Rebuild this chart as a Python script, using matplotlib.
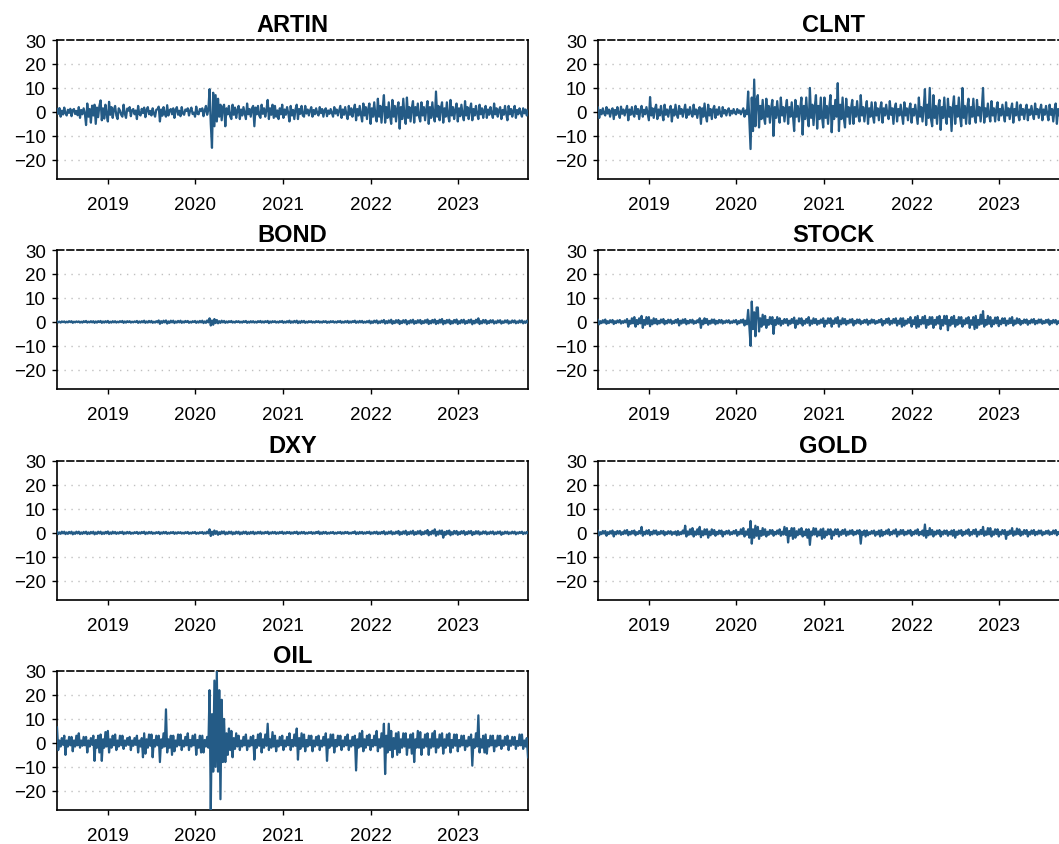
import numpy as np
import pandas as pd
import matplotlib
matplotlib.use('Agg')
import matplotlib.pyplot as plt
import matplotlib.dates as mdates

plt.rcParams['font.family'] = ['Liberation Sans', 'DejaVu Sans']

# return series: 6 readings per month, Jun 2018 - Oct 2023
names = ['ARTIN', 'CLNT', 'BOND', 'STOCK', 'DXY', 'GOLD', 'OIL']

artin = [
    # 2018 Jun-Dec
    1.2, -0.8, 1.6, -2.0, 0.5, -1.1, 1.8, -0.6, -1.5, 0.9, -0.4, 1.3, -1.8, 0.7, 1.2, -0.9, 0.4, -1.4,
    2.0, -2.5, 0.8, -1.0, 1.5, -0.6, -5.5, 3.5, -2.0, 1.2, -4.5, 2.6, -1.5, 3.0, -5.0, 1.8, -2.2, 2.5,
    4.8, -3.5, 1.5, -2.8, 3.0, -1.0,
    # 2019
    -4.0, 4.2, -1.2, 2.0, -2.5, 1.0, 2.5, -1.5, -3.0, 1.5, 0.6, -1.2, -2.0, 3.0, -0.8, -2.5, 1.4, 0.5,
    2.0, -1.8, 0.7, 1.2, -1.0, 0.6, -3.0, 2.5, -0.9, -1.5, 1.3, -0.5, 1.8, -2.2, 0.8, 2.0, -1.0, 0.4,
    -1.5, 1.5, -0.6, -2.0, 0.9, 1.1, 2.2, -4.0, 1.0, -1.6, 2.0, -0.8, -2.0, 2.8, -1.5, 0.6, 1.2, -1.0,
    1.5, -2.5, 0.8, 2.0, -1.2, 0.5, -1.8, 2.0, -0.7, -1.2, 1.0, 0.4, 1.5, -1.5, 0.6, 1.8, -0.9, -0.3,
    # 2020
    -2.0, 2.2, -0.8, -1.0, 1.2, 0.5, 1.5, -1.8, 0.6, 2.5, -1.2, 0.8, 9.5, -5.0, -15.0, 8.0, -6.0, 7.0,
    -4.0, 5.5, -2.0, 3.0, -3.5, 2.0, 3.0, -6.0, 1.5, -1.0, 2.5, -1.8, -3.0, 3.0, -1.2, 1.8, -2.5, 0.8,
    2.5, -3.0, 1.0, -1.5, 2.0, -0.6, -3.0, 3.5, -1.0, 1.2, -2.0, 1.5, 2.5, -6.0, 1.8, -1.0, 2.5, -1.5,
    -2.5, 3.0, -0.8, 1.5, -2.0, 0.9, 5.0, -3.0, 1.5, -1.2, 3.0, -2.5, 2.5, -2.0, 0.6, -3.0, 1.5, -1.0,
    # 2021
    3.0, -2.5, 1.0, -1.2, 2.0, -0.5, -4.0, 2.5, -1.5, 0.8, -3.0, 1.2, 3.0, -3.0, 1.2, -0.8, 2.5, -1.5,
    -2.0, 2.5, -0.7, 1.0, -1.5, 0.6, 2.0, -2.0, 0.8, -1.0, 1.5, -0.6, -1.5, 2.0, -0.5, 1.2, -2.0, 0.7,
    1.5, -1.8, 0.6, -0.8, 1.2, -0.4, -2.0, 2.0, -0.7, 1.0, -1.5, 0.5, 2.5, -2.5, 1.0, -1.2, 2.0, -0.9,
    -3.0, 2.5, -1.2, 1.5, -2.0, 0.8, 3.0, -3.5, 1.2, -1.5, 2.5, -1.0, -4.0, 3.5, -1.5, 2.0, -3.0, 1.2,
    # 2022
    3.5, -5.0, 1.5, -2.0, 4.0, -1.5, -4.0, 5.5, -2.0, 2.5, -4.5, 1.8, 7.0, -4.5, 2.0, -2.5, 4.0, -1.5,
    -5.0, 5.0, -2.0, 2.5, -4.0, 1.5, 4.0, -7.0, 2.0, -3.0, 5.5, -2.0, -5.0, 6.0, -2.5, 2.0, -4.0, 1.5,
    4.5, -4.5, 2.0, -1.5, 3.5, -2.0, -4.0, 4.0, -1.5, 2.0, -3.5, 1.2, 4.5, -5.0, 2.0, -2.5, 4.0, -1.5,
    -4.0, 8.5, -2.0, 2.5, -3.5, 1.5, 4.0, -4.5, 1.5, -2.0, 4.0, -1.5, -4.0, 5.0, -1.5, 2.0, -3.0, 1.0,
    # 2023 Jan-Oct
    3.5, -4.0, 1.5, -1.8, 3.0, -1.0, -3.5, 4.5, -1.5, 2.0, -3.0, 1.0, 3.5, -3.5, 1.2, -1.5, 2.5, -0.8,
    -3.0, 3.0, -1.0, 1.5, -2.5, 0.8, 2.5, -2.5, 1.0, -1.2, 2.0, -0.6, -2.5, 3.5, -1.0, 1.5, -2.0, 0.7,
    2.0, -3.0, 0.8, -1.2, 2.5, -0.8, -3.5, 2.5, -1.0, 1.2, -2.0, 0.6, 2.5, -2.5, 0.8, -1.0, 1.5, -0.5,
    -2.0, 1.5, -0.6, 1.0, -1.5, 0.5,
]

clnt = [
    # 2018 Jun-Dec
    1.8, -2.5, 0.8, -1.0, 1.5, -0.6, -1.5, 2.0, -0.7, 1.0, -2.0, 0.5, 1.5, -3.0, 0.8, -1.2, 2.0, -0.6,
    -2.5, 2.2, -0.8, 1.0, -1.5, 0.6, 2.5, -3.5, 1.0, -1.2, 2.0, -0.8, -2.0, 2.5, -0.8, 1.2, -3.0, 0.7,
    2.5, -2.0, 0.9, -1.0, 2.0, -0.8,
    # 2019
    -3.5, 6.2, -1.5, 1.5, -2.5, 1.2, 3.0, -3.0, 1.0, -1.5, 2.5, -0.8, -3.5, 3.0, -1.2, 1.0, -2.0, 0.8,
    2.5, -4.0, 1.0, -1.5, 3.0, -1.0, -2.5, 2.5, -0.8, 1.2, -2.0, 0.6, 3.0, -2.5, 1.0, -1.2, 2.0, -0.7,
    -2.0, 3.0, -1.0, 1.0, -2.5, 0.8, 2.0, -5.0, 1.5, -2.0, 3.5, -1.5, -4.0, 3.0, -1.5, 1.2, -3.0, 1.0,
    2.5, -2.5, 1.0, -1.2, 2.0, -0.8, -2.0, 2.0, -0.7, 0.8, -1.5, 0.6, 1.5, -1.5, 0.5, -0.7, 1.2, -0.4,
    # 2020
    -1.0, 1.2, -0.4, 0.6, -1.0, 0.3, 1.5, -2.0, 0.6, -1.0, 8.5, -3.0, -15.5, 6.0, -8.0, 13.5, -6.0, 5.0,
    7.0, -6.5, 2.5, -3.0, 5.0, -2.0, -5.0, 5.5, -2.0, 2.5, -4.5, 1.5, 5.0, -10.0, 2.0, -2.5, 4.5, -1.5,
    -4.5, 6.0, -1.5, 2.0, -4.0, 1.5, 5.0, -5.0, 2.0, -2.0, 4.0, -1.5, -8.0, 5.0, -2.0, 2.5, -4.0, 1.5,
    6.0, -9.5, 2.5, -3.0, 6.0, -2.0, -6.0, 10.0, -2.5, 3.0, -5.5, 2.0, 7.0, -7.0, 2.5, -3.0, 6.0, -2.0,
    # 2021
    -6.5, 6.0, -2.5, 2.5, -5.0, 2.0, 7.0, -8.5, 2.5, -3.0, 5.0, -2.0, 12.0, -8.0, 3.0, -3.0, 6.0, -2.5,
    -6.5, 5.5, -2.0, 2.0, -5.0, 1.5, 5.0, -5.0, 2.0, -2.0, 4.5, -1.5, -4.0, 7.0, -1.5, 2.0, -4.0, 1.2,
    4.5, -5.0, 1.5, -2.0, 4.0, -1.5, -4.5, 4.0, -1.5, 1.5, -3.5, 1.2, 4.0, -4.5, 1.5, -1.5, 3.0, -1.0,
    -3.0, 4.5, -1.2, 1.5, -5.0, 1.5, 3.5, -4.0, 1.2, -1.5, 3.0, -1.0, -5.0, 4.0, -1.5, 1.5, -3.5, 1.2,
    # 2022
    3.5, -4.5, 1.2, -1.5, 3.0, -1.0, -5.0, 6.0, -2.0, 2.0, -4.0, 1.5, 9.5, -5.5, 3.0, -2.5, 10.0, -3.0,
    -6.0, 7.0, -2.5, 2.5, -5.0, 2.0, 5.0, -7.5, 2.0, -2.5, 6.0, -2.0, -5.0, 5.5, -2.0, 2.0, -8.0, 2.0,
    6.5, -5.0, 2.5, -2.0, 6.0, -2.0, -6.0, 10.0, -2.5, 2.5, -5.0, 2.0, 5.5, -5.0, 2.0, -2.0, 5.5, -2.0,
    -4.5, 5.0, -1.5, 2.0, -4.0, 1.5, 10.0, -4.5, 1.5, -2.0, 3.5, -1.2, -4.0, 4.5, -1.5, 1.5, -4.0, 1.2,
    # 2023 Jan-Oct
    4.0, -3.5, 1.2, -1.5, 3.0, -1.0, -4.0, 4.0, -1.5, 1.5, -3.0, 1.0, 3.5, -4.5, 1.2, -1.5, 4.0, -1.2,
    -3.5, 3.0, -1.2, 1.2, -3.0, 1.0, 3.0, -3.5, 1.0, -1.2, 2.5, -0.8, -3.0, 3.5, -1.0, 1.2, -2.5, 0.8,
    3.0, -3.5, 1.0, -1.2, 2.5, -0.8, -3.5, 3.0, -1.2, 1.2, -4.0, 1.0, 3.5, -5.0, 1.2, -1.5, 3.0, -1.0,
    -3.5, 3.0, -1.0, 1.2, -2.5, 0.8,
]

bond = [
    # 2018 Jun-Dec
    0.3, -0.2, 0.1, -0.3, 0.2, -0.1, 0.2, -0.3, 0.1, -0.2, 0.3, -0.1, 0.3, -0.4, 0.1, -0.2, 0.2, -0.1,
    0.2, -0.3, 0.1, -0.3, 0.3, -0.1, 0.4, -0.3, 0.1, -0.2, 0.3, -0.2, 0.3, -0.4, 0.2, -0.3, 0.3, -0.1,
    0.4, -0.4, 0.2, -0.3, 0.3, -0.2,
    # 2019
    0.4, -0.4, 0.1, -0.3, 0.3, -0.2, 0.3, -0.3, 0.1, -0.2, 0.3, -0.1, 0.4, -0.4, 0.2, -0.3, 0.3, -0.1,
    0.3, -0.3, 0.1, -0.2, 0.2, -0.1, 0.4, -0.4, 0.2, -0.3, 0.3, -0.2, 0.5, -0.4, 0.2, -0.3, 0.4, -0.2,
    0.4, -0.4, 0.1, -0.3, 0.3, -0.2, 0.6, -0.8, 0.3, -0.4, 0.5, -0.2, 0.6, -0.7, 0.2, -0.4, 0.5, -0.2,
    0.5, -0.5, 0.2, -0.3, 0.4, -0.2, 0.5, -0.4, 0.2, -0.3, 0.4, -0.1, 0.4, -0.4, 0.1, -0.3, 0.3, -0.1,
    # 2020
    0.4, -0.4, 0.2, -0.3, 0.4, -0.2, 0.5, -0.5, 0.2, -0.4, 0.6, -0.2, 1.5, -1.5, 0.6, -1.2, 1.2, -0.5,
    0.8, -0.6, 0.3, -0.4, 0.5, -0.2, 0.4, -0.4, 0.2, -0.3, 0.3, -0.1, 0.4, -0.3, 0.1, -0.3, 0.3, -0.1,
    0.3, -0.3, 0.1, -0.3, 0.3, -0.1, 0.4, -0.4, 0.1, -0.3, 0.3, -0.2, 0.3, -0.3, 0.1, -0.3, 0.3, -0.1,
    0.4, -0.3, 0.2, -0.3, 0.3, -0.1, 0.4, -0.5, 0.2, -0.3, 0.3, -0.1, 0.3, -0.3, 0.1, -0.3, 0.3, -0.1,
    # 2021
    0.4, -0.4, 0.1, -0.3, 0.3, -0.2, 0.5, -0.4, 0.2, -0.3, 0.4, -0.2, 0.5, -0.5, 0.2, -0.4, 0.4, -0.2,
    0.4, -0.4, 0.1, -0.3, 0.3, -0.1, 0.3, -0.3, 0.1, -0.3, 0.3, -0.1, 0.3, -0.3, 0.1, -0.3, 0.3, -0.1,
    0.3, -0.4, 0.1, -0.3, 0.3, -0.1, 0.3, -0.3, 0.1, -0.3, 0.3, -0.1, 0.4, -0.4, 0.1, -0.3, 0.3, -0.2,
    0.4, -0.4, 0.2, -0.3, 0.3, -0.1, 0.5, -0.4, 0.2, -0.3, 0.4, -0.2, 0.4, -0.4, 0.1, -0.3, 0.3, -0.2,
    # 2022
    0.5, -0.6, 0.2, -0.4, 0.5, -0.2, 0.6, -0.6, 0.2, -0.4, 0.5, -0.2, 0.8, -0.7, 0.3, -0.5, 0.6, -0.3,
    0.9, -0.8, 0.3, -0.5, 0.7, -0.3, 0.8, -0.9, 0.3, -0.5, 0.7, -0.3, 0.8, -1.0, 0.3, -0.6, 0.7, -0.3,
    0.9, -0.8, 0.3, -0.5, 0.7, -0.3, 0.8, -0.8, 0.3, -0.5, 0.7, -0.3, 1.0, -0.9, 0.4, -0.6, 0.8, -0.3,
    1.0, -0.9, 0.4, -0.6, 0.9, -0.3, 1.2, -1.0, 0.4, -0.6, 0.8, -0.3, 0.9, -0.9, 0.3, -0.6, 0.8, -0.3,
    # 2023 Jan-Oct
    1.0, -0.9, 0.3, -0.6, 0.8, -0.3, 0.9, -0.8, 0.3, -0.5, 0.8, -0.3, 1.0, -1.0, 0.4, -0.6, 0.9, -0.3,
    1.5, -0.9, 0.3, -0.6, 0.8, -0.3, 0.8, -0.8, 0.3, -0.5, 0.7, -0.2, 0.7, -0.7, 0.2, -0.5, 0.6, -0.2,
    0.7, -0.7, 0.2, -0.4, 0.6, -0.2, 0.7, -0.7, 0.2, -0.4, 0.6, -0.2, 0.6, -0.6, 0.2, -0.4, 0.6, -0.2,
    0.6, -0.6, 0.2, -0.4, 0.5, -0.2,
]

stock = [
    # 2018 Jun-Dec
    0.8, -1.0, 0.3, -0.5, 0.7, -0.3, 1.0, -0.8, 0.3, -0.5, 0.7, -0.2, 0.8, -0.9, 0.3, -0.5, 0.6, -0.2,
    0.8, -0.7, 0.3, -0.4, 0.6, -0.2, 1.2, -2.0, 0.5, -0.8, 1.5, -0.6, 2.0, -2.0, 0.8, -1.0, 1.5, -0.6,
    2.5, -2.5, 0.8, -1.2, 2.0, -0.8,
    # 2019
    2.0, -1.8, 0.7, -1.0, 1.5, -0.6, 1.2, -1.0, 0.4, -0.6, 1.0, -0.3, 1.2, -1.0, 0.4, -0.6, 0.9, -0.3,
    0.9, -0.8, 0.3, -0.5, 0.8, -0.3, 1.2, -1.5, 0.5, -0.7, 1.0, -0.4, 1.2, -1.0, 0.4, -0.6, 0.8, -0.3,
    0.9, -0.8, 0.3, -0.5, 0.7, -0.2, 1.5, -2.5, 0.6, -1.0, 1.5, -0.5, 1.2, -1.2, 0.4, -0.7, 1.0, -0.4,
    1.0, -1.0, 0.4, -0.6, 0.8, -0.3, 0.8, -0.7, 0.3, -0.4, 0.6, -0.2, 0.7, -0.6, 0.2, -0.4, 0.6, -0.2,
    # 2020
    0.8, -1.0, 0.3, -0.5, 0.8, -0.3, 1.0, -1.5, 0.5, -1.0, 5.0, -2.0, -10.0, 8.5, -3.0, 4.0, -6.0, 6.0,
    6.0, -4.0, 1.5, -2.0, 3.0, -1.2, 2.5, -2.5, 0.8, -1.2, 2.0, -0.8, 2.0, -5.0, 0.8, -1.2, 2.0, -0.8,
    1.5, -1.5, 0.5, -0.8, 1.2, -0.4, 1.2, -1.5, 0.5, -0.8, 1.2, -0.4, 1.8, -2.5, 0.6, -1.0, 1.5, -0.6,
    1.5, -1.5, 0.5, -0.8, 1.2, -0.4, 2.0, -1.5, 0.6, -0.8, 1.5, -0.5, 1.2, -1.2, 0.4, -0.7, 1.0, -0.4,
    # 2021
    1.5, -2.0, 0.5, -0.8, 1.5, -0.5, 1.5, -2.0, 0.6, -0.8, 1.5, -0.5, 2.0, -2.0, 0.6, -1.0, 1.5, -0.6,
    1.2, -1.2, 0.4, -0.6, 1.0, -0.3, 1.2, -1.5, 0.4, -0.7, 1.0, -0.4, 1.0, -1.0, 0.3, -0.5, 0.8, -0.3,
    1.0, -1.2, 0.4, -0.6, 1.0, -0.3, 0.8, -0.8, 0.3, -0.4, 0.8, -0.2, 1.2, -1.5, 0.4, -0.7, 1.2, -0.4,
    1.5, -1.2, 0.5, -0.7, 1.2, -0.4, 1.5, -1.5, 0.5, -0.8, 1.5, -2.0, 1.5, -1.5, 0.5, -0.8, 1.2, -0.4,
    # 2022
    2.0, -2.0, 0.7, -1.0, 2.0, -2.5, 2.5, -2.0, 0.8, -1.0, 2.0, -0.7, 2.5, -2.5, 0.8, -1.2, 2.0, -0.8,
    2.0, -2.5, 0.8, -1.2, 2.0, -0.7, 2.5, -3.0, 0.8, -1.5, 2.5, -0.8, 2.5, -3.5, 0.8, -1.5, 2.0, -0.8,
    2.5, -2.0, 0.8, -1.2, 2.0, -0.7, 2.0, -2.0, 0.7, -1.0, 1.5, -0.6, 2.0, -2.5, 0.7, -1.2, 2.0, -3.0,
    2.5, -2.5, 0.8, -1.2, 3.0, -0.8, 4.5, -2.0, 0.8, -1.2, 2.5, -0.8, 2.0, -2.0, 0.7, -1.0, 1.8, -0.6,
    # 2023 Jan-Oct
    2.0, -1.8, 0.6, -1.0, 1.5, -0.5, 1.5, -1.5, 0.5, -0.8, 1.5, -0.5, 2.0, -1.5, 0.6, -0.8, 1.5, -0.5,
    1.2, -1.2, 0.4, -0.6, 1.0, -0.4, 1.0, -1.2, 0.4, -0.6, 1.0, -0.3, 1.2, -1.0, 0.4, -0.6, 1.0, -0.3,
    1.0, -0.8, 0.3, -0.5, 0.8, -0.3, 1.0, -1.2, 0.4, -0.6, 0.8, -0.3, 0.8, -1.0, 0.3, -0.5, 0.8, -0.3,
    0.9, -1.0, 0.3, -0.5, 0.6, -0.2,
]

dxy = [
    # 2018 Jun-Dec
    0.6, -0.5, 0.2, -0.4, 0.5, -0.2, 0.5, -0.5, 0.2, -0.4, 0.4, -0.2, 0.5, -0.6, 0.2, -0.4, 0.5, -0.2,
    0.5, -0.5, 0.2, -0.4, 0.4, -0.2, 0.5, -0.5, 0.2, -0.4, 0.4, -0.2, 0.5, -0.6, 0.2, -0.4, 0.5, -0.2,
    0.5, -0.5, 0.2, -0.4, 0.4, -0.2,
    # 2019
    0.6, -0.5, 0.2, -0.4, 0.5, -0.2, 0.4, -0.4, 0.2, -0.3, 0.4, -0.1, 0.5, -0.5, 0.2, -0.3, 0.4, -0.2,
    0.4, -0.4, 0.1, -0.3, 0.3, -0.1, 0.4, -0.4, 0.2, -0.3, 0.4, -0.1, 0.5, -0.5, 0.2, -0.3, 0.4, -0.2,
    0.4, -0.4, 0.1, -0.3, 0.3, -0.1, 0.4, -0.5, 0.2, -0.3, 0.4, -0.2, 0.4, -0.4, 0.1, -0.3, 0.3, -0.1,
    0.4, -0.4, 0.2, -0.3, 0.3, -0.1, 0.3, -0.3, 0.1, -0.3, 0.3, -0.1, 0.4, -0.4, 0.1, -0.3, 0.3, -0.1,
    # 2020
    0.4, -0.4, 0.1, -0.3, 0.3, -0.1, 0.4, -0.4, 0.2, -0.3, 0.5, -0.2, 1.5, -1.3, 0.5, -0.8, 1.0, -0.4,
    0.7, -0.8, 0.3, -0.5, 0.6, -0.2, 0.6, -0.6, 0.2, -0.4, 0.5, -0.2, 0.5, -0.6, 0.2, -0.4, 0.5, -0.2,
    0.5, -0.6, 0.2, -0.4, 0.5, -0.2, 0.5, -0.5, 0.2, -0.4, 0.4, -0.2, 0.5, -0.5, 0.2, -0.3, 0.4, -0.2,
    0.5, -0.4, 0.2, -0.3, 0.4, -0.1, 0.5, -0.5, 0.2, -0.3, 0.4, -0.2, 0.4, -0.4, 0.2, -0.3, 0.4, -0.1,
    # 2021
    0.5, -0.4, 0.2, -0.3, 0.4, -0.1, 0.4, -0.4, 0.2, -0.3, 0.4, -0.1, 0.5, -0.5, 0.2, -0.3, 0.4, -0.2,
    0.4, -0.4, 0.1, -0.3, 0.3, -0.1, 0.4, -0.4, 0.2, -0.3, 0.4, -0.1, 0.6, -0.5, 0.2, -0.4, 0.4, -0.2,
    0.4, -0.4, 0.1, -0.3, 0.3, -0.1, 0.4, -0.4, 0.1, -0.3, 0.3, -0.1, 0.4, -0.4, 0.2, -0.3, 0.4, -0.1,
    0.4, -0.4, 0.1, -0.3, 0.3, -0.1, 0.6, -0.5, 0.2, -0.4, 0.4, -0.2, 0.4, -0.4, 0.2, -0.3, 0.4, -0.1,
    # 2022
    0.5, -0.5, 0.2, -0.3, 0.4, -0.2, 0.5, -0.5, 0.2, -0.4, 0.4, -0.2, 0.7, -0.6, 0.2, -0.4, 0.5, -0.2,
    0.7, -0.6, 0.2, -0.4, 0.5, -0.2, 0.8, -0.8, 0.3, -0.5, 0.6, -0.3, 0.9, -0.8, 0.3, -0.5, 0.6, -0.3,
    0.9, -0.8, 0.3, -0.5, 0.7, -0.3, 0.9, -0.8, 0.3, -0.5, 0.7, -0.3, 1.2, -1.0, 0.4, -0.6, 0.9, -0.3,
    1.5, -1.2, 0.5, -0.7, 1.0, -0.4, 1.0, -2.0, 0.4, -0.8, 0.8, -0.4, 1.0, -1.0, 0.3, -0.6, 0.8, -0.3,
    # 2023 Jan-Oct
    0.8, -0.8, 0.3, -0.5, 0.7, -0.2, 0.8, -0.8, 0.3, -0.5, 0.7, -0.2, 0.8, -0.9, 0.3, -0.5, 0.7, -0.3,
    0.7, -0.7, 0.2, -0.4, 0.6, -0.2, 0.6, -0.6, 0.2, -0.4, 0.5, -0.2, 0.6, -0.6, 0.2, -0.4, 0.5, -0.2,
    0.6, -0.8, 0.2, -0.4, 0.5, -0.2, 0.5, -0.5, 0.2, -0.3, 0.5, -0.2, 0.5, -0.6, 0.2, -0.3, 0.4, -0.1,
    0.5, -0.5, 0.2, -0.3, 0.4, -0.1,
]

gold = [
    # 2018 Jun-Dec
    0.8, -1.0, 0.3, -0.5, 0.8, -0.3, 0.8, -1.2, 0.3, -0.5, 0.7, -0.3, 1.0, -1.5, 0.4, -0.6, 0.8, -0.3,
    0.8, -0.8, 0.3, -0.5, 1.0, -0.3, 1.2, -1.0, 0.4, -0.6, 0.8, -0.3, 1.0, -1.0, 0.3, -0.5, 0.8, -0.3,
    2.5, -1.2, 0.4, -0.6, 1.0, -0.4,
    # 2019
    1.2, -1.0, 0.4, -0.6, 1.0, -0.3, 1.0, -0.8, 0.3, -0.5, 0.8, -0.3, 0.8, -1.0, 0.3, -0.5, 0.7, -0.3,
    0.7, -0.8, 0.3, -0.4, 0.6, -1.0, 0.8, -0.8, 0.3, -0.5, 1.0, -0.3, 3.0, -1.5, 0.6, -0.8, 1.5, -0.6,
    2.0, -1.5, 0.6, -0.8, 1.5, -0.6, 2.5, -1.8, 0.7, -1.0, 1.5, -0.6, 1.5, -2.0, 0.6, -1.0, 1.5, -0.5,
    1.2, -1.2, 0.4, -0.6, 1.0, -0.4, 1.0, -1.5, 0.4, -0.6, 0.8, -0.3, 1.0, -0.8, 0.3, -0.5, 0.8, -0.3,
    # 2020
    1.2, -1.2, 0.4, -0.6, 1.5, -0.5, 2.0, -1.5, 0.6, -0.8, 1.5, -2.0, 5.0, -4.5, 1.5, -2.0, 3.0, -1.2,
    2.5, -2.5, 0.8, -1.2, 2.0, -0.8, 1.5, -1.5, 0.5, -0.8, 1.2, -0.4, 1.2, -1.2, 0.4, -0.6, 1.0, -0.4,
    1.5, -1.2, 0.5, -0.7, 2.5, -0.8, 2.0, -4.0, 0.8, -1.2, 2.0, -2.5, 2.0, -2.0, 0.7, -1.0, 1.5, -0.6,
    2.0, -1.5, 0.6, -1.0, 1.5, -2.0, 1.5, -5.0, 0.6, -1.0, 2.0, -0.7, 1.8, -1.5, 0.6, -1.0, 1.5, -2.5,
    # 2021
    1.8, -2.0, 0.6, -1.0, 1.5, -0.6, 1.5, -2.5, 0.6, -1.0, 1.5, -0.5, 1.5, -1.5, 0.5, -0.8, 1.2, -0.4,
    1.5, -1.2, 0.5, -0.7, 1.0, -0.4, 1.2, -1.0, 0.4, -0.6, 1.0, -0.3, 1.2, -4.5, 0.5, -0.8, 1.0, -1.5,
    1.0, -1.0, 0.3, -0.5, 0.8, -0.3, 1.0, -1.2, 0.4, -0.6, 1.0, -1.5, 1.2, -1.2, 0.4, -0.6, 1.0, -0.4,
    1.5, -1.0, 0.4, -0.6, 1.0, -0.3, 1.5, -1.5, 0.5, -0.7, 1.2, -0.4, 1.2, -1.0, 0.4, -0.6, 1.0, -0.3,
    # 2022
    1.2, -1.2, 0.4, -0.6, 1.0, -0.4, 1.5, -1.0, 0.4, -0.6, 1.0, -1.2, 3.5, -2.0, 0.8, -1.0, 2.0, -0.7,
    1.2, -1.5, 0.5, -0.7, 1.0, -0.4, 1.2, -1.5, 0.5, -0.7, 1.0, -0.4, 1.0, -1.2, 0.4, -0.6, 1.0, -1.2,
    1.2, -2.0, 0.5, -0.8, 1.0, -0.4, 1.2, -1.2, 0.4, -0.6, 1.0, -0.4, 1.5, -1.2, 0.4, -0.7, 1.2, -0.4,
    1.5, -1.5, 0.5, -0.7, 1.2, -0.5, 2.5, -1.2, 0.6, -0.8, 2.0, -0.6, 2.0, -1.5, 0.6, -0.8, 1.5, -0.5,
    # 2023 Jan-Oct
    1.5, -1.5, 0.5, -0.7, 1.2, -0.4, 1.2, -2.5, 0.5, -0.8, 1.0, -0.4, 2.0, -1.2, 0.6, -0.7, 1.8, -0.5,
    1.5, -1.2, 0.5, -0.7, 1.2, -0.4, 1.2, -1.5, 0.4, -0.7, 1.0, -0.4, 1.2, -1.0, 0.4, -0.6, 1.0, -0.3,
    1.0, -1.0, 0.3, -0.5, 0.8, -0.3, 1.0, -0.8, 0.3, -0.5, 1.0, -0.3, 1.2, -1.0, 0.4, -0.5, 0.8, -0.3,
    0.8, -1.0, 0.3, -0.5, 0.8, -0.3,
]

oil = [
    # 2018 Jun-Dec
    6.5, -3.0, 1.0, -1.5, 2.0, -0.8, 3.0, -5.0, 1.0, -1.5, 2.5, -1.0, 2.5, -3.5, 1.0, -1.5, 3.0, -1.0,
    4.0, -2.0, 1.0, -1.2, 2.5, -1.0, 2.5, -4.0, 1.0, -1.5, 2.0, -0.8, 3.0, -7.5, 1.2, -2.0, 3.0, -4.0,
    3.5, -7.5, 1.5, -2.0, 4.5, -1.5,
    # 2019
    5.0, -4.0, 1.5, -2.0, 3.0, -1.0, 3.5, -3.0, 1.0, -1.5, 3.0, -1.0, 3.0, -2.5, 1.0, -1.2, 2.0, -0.8,
    2.5, -3.0, 1.0, -1.2, 2.0, -0.8, 3.0, -4.0, 1.0, -1.5, 2.0, -6.0, 4.0, -4.5, 1.5, -2.0, 3.5, -1.2,
    3.5, -6.0, 1.2, -1.5, 3.0, -1.0, 3.0, -8.0, 1.5, -2.0, 4.0, -1.5, 14.0, -4.0, 1.5, -2.0, 3.0, -5.0,
    3.0, -3.5, 1.0, -1.5, 3.5, -1.0, 3.5, -3.0, 1.0, -1.5, 2.5, -1.0, 4.0, -3.0, 1.2, -1.5, 3.0, -1.0,
    # 2020
    3.5, -5.0, 1.2, -2.0, 3.0, -4.0, 3.0, -4.0, 1.2, -1.5, 2.5, -2.0, 22.0, -28.0, 12.0, -12.0, 26.0, -10.0,
    30.0, -12.0, 22.0, -23.5, 18.0, -8.0, 10.0, -8.0, 4.0, -5.0, 6.0, -3.0, 5.0, -6.0, 2.0, -2.5, 4.0, -1.5,
    3.0, -3.0, 1.0, -1.5, 2.5, -1.0, 3.5, -3.0, 1.0, -1.5, 2.5, -1.0, 3.0, -7.0, 1.2, -2.0, 3.5, -1.2,
    4.0, -4.0, 1.5, -2.0, 3.5, -1.2, 8.0, -3.0, 1.5, -2.0, 4.5, -1.5, 3.0, -3.5, 1.0, -1.5, 2.5, -1.0,
    # 2021
    3.0, -3.0, 1.0, -1.5, 2.5, -1.0, 4.0, -3.0, 1.2, -1.5, 3.5, -1.2, 6.0, -7.0, 2.0, -2.5, 4.0, -1.5,
    3.5, -3.5, 1.2, -1.5, 3.0, -1.0, 3.0, -3.5, 1.0, -1.5, 2.5, -1.0, 3.0, -3.0, 1.0, -1.5, 2.5, -1.0,
    4.0, -7.5, 1.5, -2.0, 3.5, -1.2, 3.5, -4.0, 1.2, -1.5, 3.0, -1.0, 3.0, -3.0, 1.0, -1.5, 2.5, -1.0,
    3.5, -3.0, 1.0, -1.5, 2.5, -1.0, 3.0, -11.5, 1.5, -2.0, 4.0, -1.5, 5.0, -3.5, 1.5, -2.0, 3.0, -1.0,
    # 2022
    3.5, -3.0, 1.2, -1.5, 3.0, -1.0, 5.0, -3.5, 1.5, -2.0, 4.0, -1.5, 8.0, -13.0, 3.0, -4.0, 8.0, -3.0,
    5.0, -6.0, 2.0, -2.5, 4.0, -5.0, 4.5, -4.0, 1.5, -2.0, 4.0, -1.5, 4.0, -5.0, 1.5, -2.0, 3.5, -4.5,
    4.0, -8.0, 1.5, -2.0, 5.0, -2.0, 4.5, -5.0, 1.5, -2.0, 3.5, -1.5, 4.0, -5.0, 1.5, -2.0, 4.0, -1.5,
    5.0, -4.0, 1.5, -2.0, 3.5, -1.2, 4.0, -4.5, 1.5, -2.0, 3.5, -1.2, 4.0, -4.0, 1.2, -2.0, 3.5, -1.2,
    # 2023 Jan-Oct
    3.5, -3.5, 1.2, -1.5, 3.0, -1.0, 3.0, -3.0, 1.0, -1.5, 2.5, -1.0, 3.5, -9.5, 1.5, -2.0, 4.0, -1.5,
    11.5, -4.0, 1.5, -2.0, 3.0, -4.0, 3.5, -4.5, 1.2, -1.5, 3.0, -1.0, 3.0, -3.5, 1.0, -1.5, 3.0, -1.0,
    3.0, -2.5, 1.0, -1.2, 2.5, -0.8, 3.0, -3.0, 1.0, -1.2, 2.5, -0.8, 2.5, -2.5, 0.8, -1.2, 3.5, -1.0,
    3.5, -2.5, 1.0, -1.5, 2.0, -6.0,
]

series = [artin, clnt, bond, stock, dxy, gold, oil]
start, end = '2018-06-03', '2023-10-20'

W, H = 1059, 845
fig = plt.figure(figsize=(W / 100, H / 100), dpi=100)

col_x = [57, 598]      # left edge of each column, px
tops = [41, 251, 462, 672]
ax_w, ax_h = 471, 139
line_col = '#245b86'

for i, (name, vals) in enumerate(zip(names, series)):
    r, c = divmod(i, 2)
    dates = pd.date_range(start, end, periods=len(vals))
    ax = fig.add_axes([col_x[c] / W, 1 - (tops[r] + ax_h) / H, ax_w / W, ax_h / H])
    ax.plot(dates, vals, color=line_col, lw=1.6, zorder=3)
    ax.set_xlim(pd.Timestamp(start), pd.Timestamp(end))
    ax.set_ylim(-28, 30)
    ax.set_yticks([-20, -10, 0, 10, 20, 30])
    ax.set_yticklabels(['\u221220', '\u221210', '0', '10', '20', '30'])
    for yv in [-20, -10, 10, 20]:
        ax.axhline(yv, color='#c0c0c0', lw=1.0, ls=(0, (1, 4)), zorder=1)
    ax.xaxis.set_major_locator(mdates.YearLocator())
    ax.xaxis.set_major_formatter(mdates.DateFormatter('%Y'))
    ax.spines['top'].set_linestyle((0, (4, 2)))
    for s in ax.spines.values():
        s.set_linewidth(1.2)
    ax.tick_params(axis='both', labelsize=13.5, length=3.5, width=1, colors='black')
    ax.tick_params(axis='x', pad=9)
    ax.tick_params(axis='y', pad=4.5)
    ax.set_title(name, fontweight='bold', fontsize=17, pad=6.5)

fig.savefig('out.png', dpi=100)
